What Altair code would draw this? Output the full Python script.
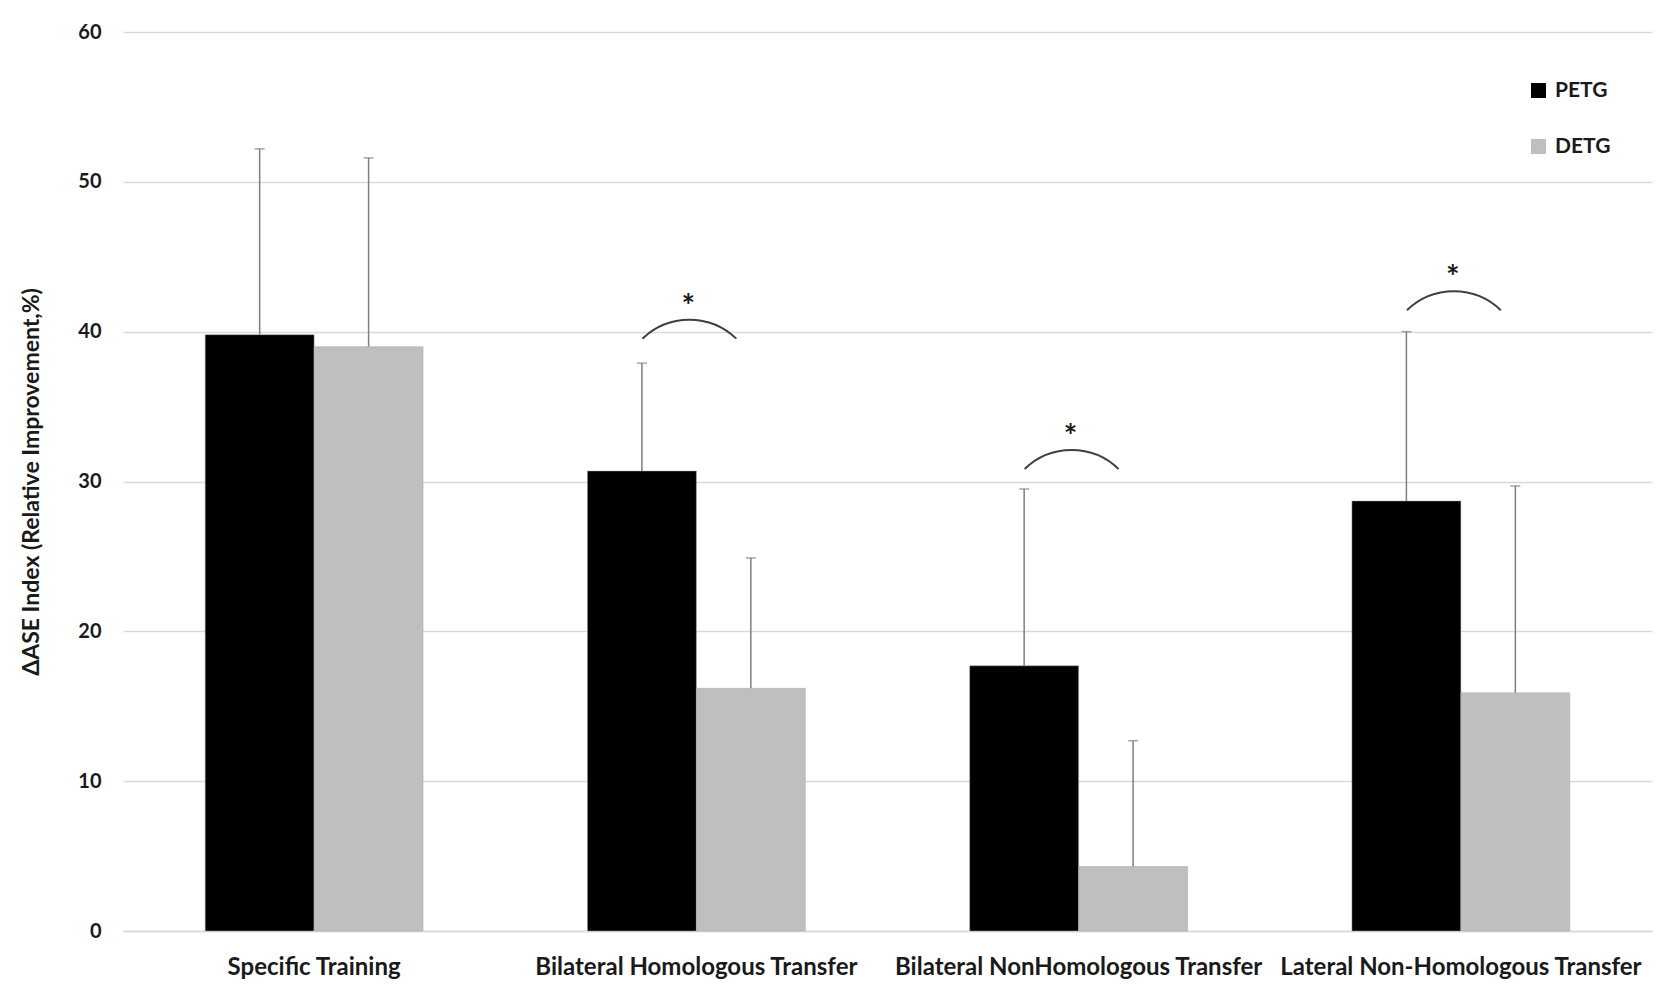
import altair as alt
import pandas as pd

categories = [
    "Specific Training",
    "Bilateral Homologous Transfer",
    "Bilateral NonHomologous Transfer",
    "Lateral Non-Homologous Transfer",
]
groups = ["PETG", "DETG"]
petg_mean = [39.8, 30.7, 17.7, 28.7]
petg_sd = [12.4, 7.2, 11.8, 11.3]
detg_mean = [39.0, 16.2, 4.3, 15.9]
detg_sd = [12.6, 8.7, 8.4, 13.8]
sig_categories = categories[1:]
sig_arc_top = [40.8, 32.1, 42.7]
sig_star = [40.8, 32.1, 42.7]
y_ticks = [0, 10, 20, 30, 40, 50, 60]

rows = []
for i, c in enumerate(categories):
    rows.append({"category": c, "group": "PETG", "mean": petg_mean[i], "upper": petg_mean[i] + petg_sd[i]})
    rows.append({"category": c, "group": "DETG", "mean": detg_mean[i], "upper": detg_mean[i] + detg_sd[i]})
df = pd.DataFrame(rows)
df_sig = pd.DataFrame({"category": sig_categories, "arc": sig_arc_top, "star": sig_star})

FONT = "Lato"

x_enc = alt.X(
    "category:N",
    sort=categories,
    scale=alt.Scale(domain=categories, paddingInner=0.43, paddingOuter=0.215),
    axis=alt.Axis(
        title=None, labelAngle=0, ticks=False, domain=True, domainColor="#d9d9d9",
        domainWidth=1.5, labelFont=FONT, labelFontSize=24, labelFontWeight="bold",
        labelColor="#1a1a1a", labelPadding=24, labelLimit=0,
    ),
)
xoff_enc = alt.XOffset("group:N", sort=groups, scale=alt.Scale(domain=groups, paddingInner=0, paddingOuter=0))
y_scale = alt.Scale(domain=[0, 60], nice=False)

base = alt.Chart(df).encode(x=x_enc, xOffset=xoff_enc)

bars = base.mark_bar(stroke="#a6a6a6", strokeWidth=0.5).encode(
    y=alt.Y(
        "mean:Q",
        scale=y_scale,
        axis=alt.Axis(
            values=y_ticks, grid=True, gridColor="#d9d9d9", gridWidth=1.5, domain=False,
            ticks=False, labelFont=FONT, labelFontSize=20, labelFontWeight="bold",
            labelColor="#1a1a1a", labelPadding=22,
            title="ΔASE Index (Relative Improvement,%)", titleFont=FONT, titleFontSize=23,
            titleFontWeight="bold", titleColor="#1a1a1a", titlePadding=34,
        ),
    ),
    color=alt.Color(
        "group:N",
        sort=groups,
        scale=alt.Scale(domain=groups, range=["#000000", "#bfbfbf"]),
        legend=alt.Legend(
            title=None, orient="none", legendX=1405, legendY=48, symbolType="square",
            symbolSize=225, symbolStrokeWidth=0, labelFont=FONT, labelFontSize=21,
            labelFontWeight="bold", labelColor="#1a1a1a", rowPadding=34, padding=0,
            labelOffset=6,
        ),
    ),
)

rules = base.mark_rule(color="#7f7f7f", strokeWidth=1.5).encode(
    y=alt.Y("mean:Q", scale=y_scale), y2="upper:Q"
)
caps = base.mark_tick(color="#7f7f7f", thickness=1.5, size=10, orient="horizontal").encode(
    y=alt.Y("upper:Q", scale=y_scale)
)

arcs = alt.Chart(df_sig).mark_arc(
    radius=67.6, radius2=67.6, theta=5.515, theta2=7.051, fillOpacity=0,
    stroke="#404040", strokeWidth=2, yOffset=67.6, xOffset=-7,
).encode(x=alt.X("category:N", sort=categories), y=alt.Y("arc:Q", scale=y_scale))

stars = alt.Chart(df_sig).mark_text(
    text="*", font=FONT, fontSize=32, fontWeight="bold", color="#1a1a1a",
    baseline="bottom", xOffset=-8, yOffset=5,
).encode(x=alt.X("category:N", sort=categories), y=alt.Y("star:Q", scale=y_scale))

chart = alt.layer(bars, rules, caps, arcs, stars).properties(
    width=1529, height=899, autosize="none",
    padding={"left": 115, "top": 24, "right": 10, "bottom": 60},
    background="white",
).configure_view(stroke=None)

chart.save("out.html", embed_options={"renderer": "svg", "actions": False})
